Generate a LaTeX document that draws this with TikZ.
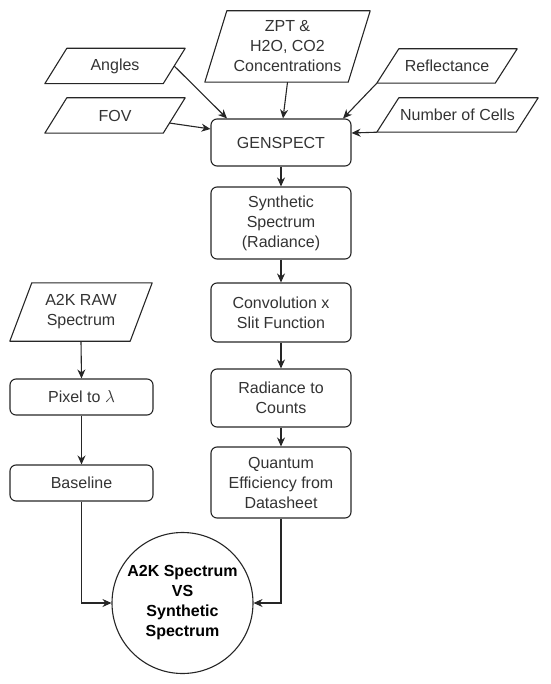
\documentclass[tikz,border=0pt]{standalone}
\usepackage{fontspec}
\setmainfont{Liberation Sans}
\usetikzlibrary{calc,arrows.meta}
\tikzstyle{proc}=[shape=rectangle, rounded corners=6pt, draw=black!85, line width=1.1pt, minimum width=140pt, align=center, inner sep=0, text=black!80, font=\fontsize{16}{20}\selectfont]
\tikzstyle{io}=[shape=rectangle, minimum width=140pt, minimum height=35pt, align=center, inner sep=0, text=black!80, font=\fontsize{16}{20}\selectfont]
\tikzstyle{outl}=[draw=black!85, line width=1.1pt, line join=round]
\tikzstyle{conn}=[draw=black!85, line width=1.1pt, -{Stealth[length=9pt,width=8pt]}]

\begin{document}
\begin{tikzpicture}[x=1pt, y=-1pt]
\useasboundingbox (0,0) rectangle (550,684);
% inputs
\node at (115,66)[io](ang){Angles};
\node at (115,115.5)[io](fov){FOV};
\node at (287.5,46.5)[io, minimum width=165pt, minimum height=71pt](zpt){ZPT \&\\H2O, CO2\\Concentrations};
\node at (447,66)[io, minimum height=34pt](refl){Reflectance};
\node at (457.5,115)[io, minimum width=161pt, minimum height=34pt](cells){Number of Cells};
\node at (81,312)[io, minimum width=142pt, minimum height=58pt](raw){A2K RAW\\Spectrum};
\foreach \n in {ang,fov,zpt,refl,cells,raw}
  \draw[outl] ($(\n.north west)+(22,0)$)--(\n.north east)--($(\n.south east)+(-22,0)$)--(\n.south west)--cycle;
% synthetic branch
\node at (281,142.5)[proc, minimum height=47pt](gen){GENSPECT};
\node at (281,223)[proc, minimum height=72pt](syn){Synthetic\\Spectrum\\(Radiance)};
\node at (281,312.5)[proc, minimum height=59pt](conv){Convolution x\\Slit Function};
\node at (281,398)[proc, minimum height=58pt](rad){Radiance to\\Counts};
\node at (281,482.5)[proc, minimum height=71pt](qe){Quantum\\Efficiency from\\Datasheet};
% measured branch
\node at (81.5,397)[proc, minimum width=143pt, minimum height=36pt](pix){Pixel to $\lambda$};
\node at (81.5,483)[proc, minimum width=143pt, minimum height=36pt](base){Baseline};
\node at (182.5,603)[shape=circle, draw=black!85, line width=1.1pt, minimum size=141pt, inner sep=0, align=center, text=black, font=\fontsize{16}{20}\selectfont\bfseries](cmp){A2K Spectrum\\VS\\Synthetic\\Spectrum};
\draw[conn] ($(ang.east)+(-11,0)$)--($(gen.north)+(-54,0)$);
\draw[conn] ($(fov.east)+(-16,7.5)$)--($(gen.west)+(0,-13.5)$);
\draw[conn] (zpt.south)--($(gen.north)+(2,0)$);
\draw[conn] (refl.south west)--($(gen.north)+(62,0)$);
\draw[conn] (cells.south west)--($(gen.east)+(0,-9.5)$);
\draw[conn] (gen)--(syn);
\draw[conn] (syn)--(conv);
\draw[conn] (conv)--(rad);
\draw[conn] (rad)--(qe);
\draw[conn] (raw.south)--(pix.north);
\draw[conn] (pix)--(base);
\draw[conn] (base.south)|-(cmp.west);
\draw[conn] (qe.south)|-(cmp.east);
\end{tikzpicture}
\end{document}
